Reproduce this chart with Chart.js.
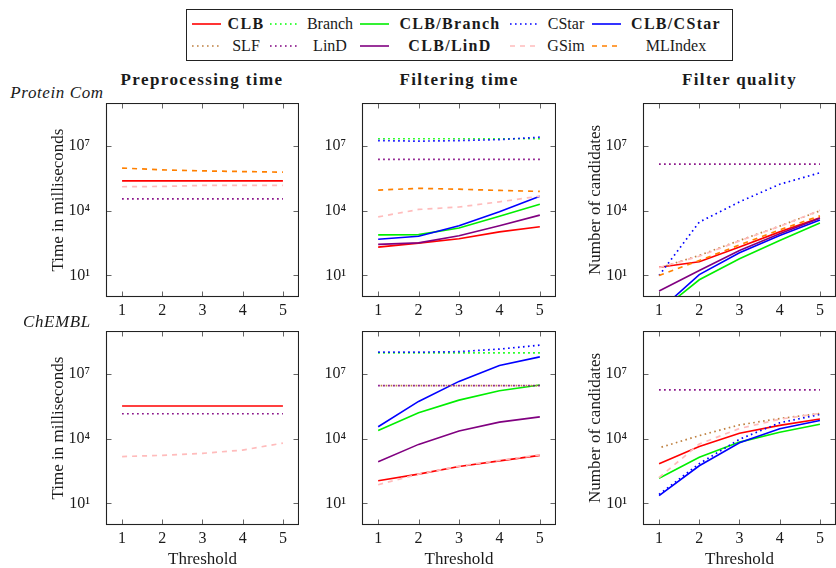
<!DOCTYPE html>
<html>
<head>
<meta charset="utf-8">
<script src="https://cdn.jsdelivr.net/npm/chart.js@4.4.1/dist/chart.umd.min.js"></script>
<style>
html,body{margin:0;padding:0;background:#fff;overflow:hidden;width:836px;height:568px;}
body{position:relative;font-family:"Liberation Serif","DejaVu Serif",serif;color:#1a1a1a;}
canvas{position:absolute;}
.t{position:absolute;white-space:nowrap;transform:translate(-50%,-50%);line-height:1;}
.coltitle{font-weight:bold;font-size:17px;letter-spacing:1.4px;}
.rowlabel{font-style:italic;font-size:17px;letter-spacing:0.6px;}
#legendBox{position:absolute;left:186px;top:9px;width:547px;height:52px;box-sizing:border-box;border:1.3px solid #222;}
.lg{position:absolute;white-space:nowrap;transform:translate(-50%,-50%);font-size:16px;line-height:1;}
.lg.b{font-weight:bold;letter-spacing:1.3px;}
.ls{position:absolute;}
</style>
</head>
<body>
<div id="legendBox"></div>
<script>
// ---------------- DATA ----------------
const thresholds = [1, 2, 3, 4, 5];
const yTickValues = [1e1, 1e4, 1e7];

// Protein Com - Preprocessing time (ms)
const protPreCLB     = [2.45e5, 2.45e5, 2.45e5, 2.45e5, 2.45e5];
const protPreLinD    = [3.6e4, 3.6e4, 3.6e4, 3.6e4, 3.6e4];
const protPreGSim    = [1.3e5, 1.35e5, 1.5e5, 1.5e5, 1.5e5];
const protPreMLIndex = [9.6e5, 7.9e5, 7.1e5, 6.6e5, 6.2e5];

// ChEMBL - Preprocessing time (ms)
const chemPreCLB  = [3.3e5, 3.3e5, 3.3e5, 3.3e5, 3.3e5];
const chemPreLinD = [1.45e5, 1.45e5, 1.45e5, 1.45e5, 1.45e5];
const chemPreGSim = [1.5e3, 1.7e3, 2.1e3, 3.0e3, 6.3e3];

// Protein Com - Filtering time (ms)
const protFiltBranch    = [2.2e7, 2.2e7, 2.2e7, 2.2e7, 2.2e7];
const protFiltCStar     = [1.8e7, 1.7e7, 1.8e7, 2.0e7, 2.6e7];
const protFiltLinD      = [2.4e6, 2.4e6, 2.4e6, 2.4e6, 2.4e6];
const protFiltMLIndex   = [9.1e4, 1.1e5, 1.0e5, 8.8e4, 7.9e4];
const protFiltGSim      = [5.2e3, 1.15e4, 1.5e4, 2.6e4, 4.8e4];
const protFiltCLBCStar  = [480, 660, 2000, 8900, 4.7e4];
const protFiltCLBBranch = [760, 780, 1600, 5600, 2.0e4];
const protFiltCLBLinD   = [275, 325, 690, 2000, 6300];
const protFiltCLB       = [205, 316, 500, 1050, 1800];

// ChEMBL - Filtering time (ms)
const chemFiltCStar     = [1.05e8, 1.05e8, 1.1e8, 1.45e8, 2.2e8];
const chemFiltBranch    = [9.7e7, 9.7e7, 9.7e7, 9.7e7, 9.7e7];
const chemFiltSLF       = [2.9e6, 2.9e6, 2.9e6, 2.9e6, 2.9e6];
const chemFiltLinD      = [2.9e6, 2.9e6, 2.9e6, 2.9e6, 2.9e6];
const chemFiltCLBCStar  = [3.6e4, 5.4e5, 4.6e6, 2.5e7, 6.3e7];
const chemFiltCLBBranch = [2.4e4, 1.6e5, 6.2e5, 1.7e6, 3.1e6];
const chemFiltCLBLinD   = [850, 5.5e3, 2.3e4, 5.9e4, 1.04e5];
const chemFiltCLB       = [113, 230, 520, 940, 1700];
const chemFiltGSim      = [74, 230, 540, 1000, 1800];

// Protein Com - Filter quality (number of candidates)
const protQualLinD      = [1.46e6, 1.46e6, 1.46e6, 1.46e6, 1.46e6];
const protQualCStar     = [10, 3.0e3, 2.6e4, 1.7e5, 5.8e5];
const protQualGSim      = [23, 78, 400, 1900, 1.05e4];
const protQualSLF       = [22, 85, 420, 1950, 1.0e4];
const protQualMLIndex   = [10, 49, 260, 1300, 5.8e3];
const protQualCLB       = [24, 43, 210, 1050, 4.7e3];
const protQualCLBLinD   = [1.9, 17, 145, 870, 4.5e3];
const protQualCLBCStar  = [0.23, 11, 113, 720, 3.7e3];
const protQualCLBBranch = [0.2, 6.3, 60, 420, 2.7e3];

// ChEMBL - Filter quality (number of candidates)
const chemQualLinD      = [1.87e6, 1.87e6, 1.87e6, 1.87e6, 1.87e6];
const chemQualSLF       = [3.8e3, 1.4e4, 4.4e4, 8.7e4, 1.5e5];
const chemQualGSim      = [160, 5.7e3, 3.0e4, 8.1e4, 1.5e5];
const chemQualCLB       = [700, 4.4e3, 1.8e4, 4.2e4, 8.3e4];
const chemQualCLBBranch = [148, 1.4e3, 7.0e3, 2.0e4, 4.7e4];
const chemQualCLBCStar  = [23, 560, 6.5e3, 2.9e4, 7.1e4];
const chemQualCStar     = [26, 700, 9.5e3, 5.5e4, 1.35e5];

// ---------------- STYLES ----------------
const legendRows = [
  ['CLB', 'Branch', 'CLB/Branch', 'CStar', 'CLB/CStar'],
  ['SLF', 'LinD', 'CLB/LinD', 'GSim', 'MLIndex']
];
const seriesStyle = {
  'CLB':        {color: '#ff0000', dash: 'solid'},
  'Branch':     {color: '#00ff00', dash: 'dotted'},
  'CLB/Branch': {color: '#00ee00', dash: 'solid'},
  'CStar':      {color: '#0000ff', dash: 'dotted'},
  'CLB/CStar':  {color: '#0000ff', dash: 'solid'},
  'SLF':        {color: '#bf8040', dash: 'dotted', offset: 2.5},
  'LinD':       {color: '#800080', dash: 'dotted'},
  'CLB/LinD':   {color: '#800080', dash: 'solid'},
  'GSim':       {color: '#ffbcbc', dash: 'dashed'},
  'MLIndex':    {color: '#ff8000', dash: 'dashed'}
};
const dashPatterns = {solid: [], dotted: [1.6, 3.4], dashed: [5, 5]};
const legendOrder = legendRows.flat();

// ---------------- LAYOUT ----------------
const FONT = '"Liberation Serif", "DejaVu Serif", serif';
const panels = [
  {left: 48,  top: 103, width: 251, height: 220, yW: 58, xH: 26, yTitle: 'Time in milliseconds',
   series: [['CLB', protPreCLB], ['LinD', protPreLinD], ['GSim', protPreGSim], ['MLIndex', protPreMLIndex]]},
  {left: 322, top: 103, width: 234, height: 220, yW: 40, xH: 26, yTitle: null,
   series: [['CLB', protFiltCLB], ['Branch', protFiltBranch], ['CLB/Branch', protFiltCLBBranch], ['CStar', protFiltCStar],
            ['CLB/CStar', protFiltCLBCStar], ['LinD', protFiltLinD], ['CLB/LinD', protFiltCLBLinD],
            ['GSim', protFiltGSim], ['MLIndex', protFiltMLIndex]]},
  {left: 585, top: 103, width: 251, height: 220, yW: 58, xH: 26, yTitle: 'Number of candidates',
   series: [['CLB', protQualCLB], ['CLB/Branch', protQualCLBBranch], ['CStar', protQualCStar], ['CLB/CStar', protQualCLBCStar],
            ['SLF', protQualSLF], ['LinD', protQualLinD], ['CLB/LinD', protQualCLBLinD], ['GSim', protQualGSim],
            ['MLIndex', protQualMLIndex]]},
  {left: 48,  top: 331, width: 251, height: 237, yW: 58, xH: 43, yTitle: 'Time in milliseconds', xTitle: 'Threshold',
   series: [['CLB', chemPreCLB], ['LinD', chemPreLinD], ['GSim', chemPreGSim]]},
  {left: 322, top: 331, width: 234, height: 237, yW: 40, xH: 43, yTitle: null, xTitle: 'Threshold',
   series: [['CLB', chemFiltCLB], ['Branch', chemFiltBranch], ['CLB/Branch', chemFiltCLBBranch], ['CStar', chemFiltCStar],
            ['CLB/CStar', chemFiltCLBCStar], ['SLF', chemFiltSLF], ['LinD', chemFiltLinD], ['CLB/LinD', chemFiltCLBLinD],
            ['GSim', chemFiltGSim]]},
  {left: 585, top: 331, width: 251, height: 237, yW: 58, xH: 43, yTitle: 'Number of candidates', xTitle: 'Threshold',
   series: [['CLB', chemQualCLB], ['CLB/Branch', chemQualCLBBranch], ['CStar', chemQualCStar], ['CLB/CStar', chemQualCLBCStar],
            ['SLF', chemQualSLF], ['LinD', chemQualLinD], ['GSim', chemQualGSim]]}
];
const columnTitles = [['Preprocessing time', 202, 79], ['Filtering time', 459, 79], ['Filter quality', 739.5, 79]];
const rowLabels = [['Protein Com', 57, 92], ['ChEMBL', 57, 321]];

const sup = {'0':'⁰','1':'¹','2':'²','3':'³','4':'⁴','5':'⁵','6':'⁶','7':'⁷','8':'⁸','9':'⁹'};
function fmtPow(v) {
  const e = Math.round(Math.log10(v));
  return '10' + String(e).split('').map(c => sup[c]).join('');
}

const frameTicks = {
  id: 'frameTicks',
  afterDatasetsDraw(chart) {
    const {ctx, chartArea: a} = chart;
    const xs = chart.scales.x, ys = chart.scales.y;
    const TL = 5.5;
    ctx.save();
    ctx.lineWidth = 0.9;
    ctx.strokeStyle = '#555';
    ctx.beginPath();
    xs.ticks.forEach(t => {
      const p = Math.round(xs.getPixelForValue(t.value)) + 0.5;
      ctx.moveTo(p, a.top); ctx.lineTo(p, a.top + TL);
      ctx.moveTo(p, a.bottom); ctx.lineTo(p, a.bottom - TL);
    });
    ys.ticks.forEach(t => {
      const p = Math.round(ys.getPixelForValue(t.value)) + 0.5;
      ctx.moveTo(a.left, p); ctx.lineTo(a.left + TL, p);
      ctx.moveTo(a.right, p); ctx.lineTo(a.right - TL, p);
    });
    ctx.stroke();
    ctx.lineWidth = 1.1;
    ctx.strokeStyle = '#222';
    ctx.strokeRect(a.left + 0.5, a.top + 0.5, a.right - a.left - 1, a.bottom - a.top - 1);
    ctx.restore();
  }
};

panels.forEach(p => {
  const cv = document.createElement('canvas');
  cv.width = p.width; cv.height = p.height;
  cv.style.left = p.left + 'px'; cv.style.top = p.top + 'px';
  document.body.appendChild(cv);
  const datasets = p.series.map(([name, vals]) => {
    const st = seriesStyle[name];
    return {
      label: name,
      data: thresholds.map((t, i) => ({x: t, y: vals[i]})),
      borderColor: st.color,
      backgroundColor: st.color,
      borderWidth: st.dash === 'solid' ? 1.6 : 1.7,
      borderDash: dashPatterns[st.dash],
      borderDashOffset: st.offset || 0,
      pointRadius: 0,
      tension: 0,
      fill: false,
      order: 100 - legendOrder.indexOf(name)
    };
  });
  new Chart(cv, {
    type: 'line',
    data: {datasets},
    options: {
      responsive: false,
      animation: false,
      devicePixelRatio: 1,
      layout: {padding: 0, autoPadding: false},
      plugins: {legend: {display: false}, tooltip: {enabled: false}},
      scales: {
        x: {
          type: 'linear', min: 0.6, max: 5.4,
          grid: {display: false}, border: {display: false},
          ticks: {font: {family: FONT, size: 16}, color: '#1a1a1a', padding: -4, maxRotation: 0},
          title: {display: !!p.xTitle, text: p.xTitle || '', font: {family: FONT, size: 17}, color: '#1a1a1a', padding: {top: 0, bottom: -2}},
          afterBuildTicks: s => { s.ticks = thresholds.map(v => ({value: v})); },
          afterFit: s => { s.height = p.xH; s.paddingLeft = 0; s.paddingRight = 0; }
        },
        y: {
          type: 'logarithmic', min: 1, max: 1e9,
          grid: {display: false}, border: {display: false},
          ticks: {font: {family: FONT, size: 16}, color: '#1a1a1a', padding: 8, callback: v => fmtPow(v)},
          title: {display: !!p.yTitle, text: p.yTitle || '', font: {family: FONT, size: 17}, color: '#1a1a1a', padding: {top: 0, bottom: 0}},
          afterBuildTicks: s => { s.ticks = yTickValues.map(v => ({value: v})); },
          afterFit: s => { s.width = p.yW; s.paddingTop = 0; s.paddingBottom = 0; }
        }
      }
    },
    plugins: [frameTicks]
  });
});

columnTitles.forEach(([txt, x, y]) => {
  const d = document.createElement('div');
  d.className = 't coltitle'; d.textContent = txt;
  d.style.left = x + 'px'; d.style.top = y + 'px';
  document.body.appendChild(d);
});
rowLabels.forEach(([txt, x, y]) => {
  const d = document.createElement('div');
  d.className = 't rowlabel'; d.textContent = txt;
  d.style.left = x + 'px'; d.style.top = y + 'px';
  document.body.appendChild(d);
});

// legend
const sampleX = [192, 270, 360, 510, 592];
const textCX = [246, 330, 450, 566, 676];
const rowY = [24, 46];
legendRows.forEach((row, r) => {
  row.forEach((name, c) => {
    const st = seriesStyle[name];
    const svgNS = 'http://www.w3.org/2000/svg';
    const svg = document.createElementNS(svgNS, 'svg');
    svg.setAttribute('width', 29); svg.setAttribute('height', 6);
    svg.setAttribute('class', 'ls');
    svg.style.left = sampleX[c] + 'px'; svg.style.top = (rowY[r] - 3) + 'px';
    const ln = document.createElementNS(svgNS, 'line');
    ln.setAttribute('x1', 0); ln.setAttribute('x2', 29);
    ln.setAttribute('y1', 3); ln.setAttribute('y2', 3);
    ln.setAttribute('stroke', st.color);
    ln.setAttribute('stroke-width', st.dash === 'solid' ? 1.6 : 1.7);
    const dp = dashPatterns[st.dash];
    if (dp.length) ln.setAttribute('stroke-dasharray', dp.join(' '));
    svg.appendChild(ln);
    document.body.appendChild(svg);
    const d = document.createElement('div');
    d.className = 'lg' + (name.startsWith('CLB') ? ' b' : '');
    d.textContent = name;
    d.style.left = textCX[c] + 'px'; d.style.top = rowY[r] + 'px';
    document.body.appendChild(d);
  });
});
</script>
</body>
</html>
